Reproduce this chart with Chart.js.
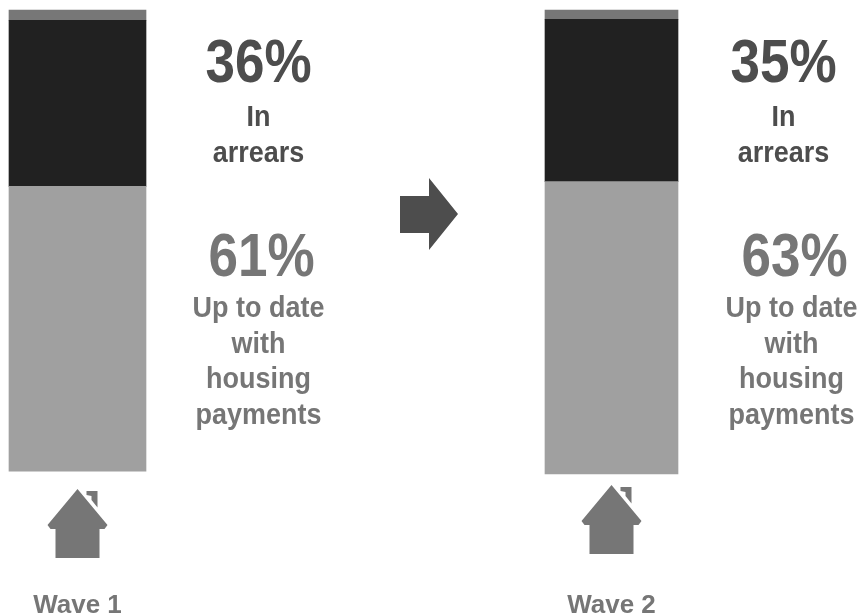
<!DOCTYPE html>
<html>
<head>
<meta charset="utf-8">
<title>Housing payments by wave</title>
<script src="https://cdn.jsdelivr.net/npm/chart.js@4/dist/chart.umd.js"></script>
<style>
  html, body { margin: 0; padding: 0; background: #fff; }
  canvas { display: block; }
</style>
</head>
<body>
<canvas id="chart" width="860" height="614"></canvas>
<script>
// Values
const waves = ["Wave 1", "Wave 2"]
const spacer = [0.6, 0]
const upToDate = [61.4, 63]
const arrears = [35.8, 35]
const other = [2.2, 2]

const arrearsCaption = ["In", "arrears"]
const upToDateCaption = ["Up to date", "with", "housing", "payments"]

const barWidths = [137, 133]
const dark = "#4d4d4d"
const mid = "#767676"

// One dataset per wave and segment, because barThickness is per dataset
const segments = [
  { label: "Spacer", values: spacer, color: "rgba(0,0,0,0)" },
  { label: "Up to date", values: upToDate, color: "#a0a0a0" },
  { label: "In arrears", values: arrears, color: "#212121" },
  { label: "Other", values: other, color: "#777777" },
]
const datasets = []
waves.forEach((wave, w) => {
  segments.forEach((seg) => {
    datasets.push({
      label: wave + " " + seg.label,
      data: waves.map((_, i) => (i === w ? seg.values[i] : null)),
      backgroundColor: seg.color,
      barThickness: barWidths[w],
      clip: false,
    })
  })
})

// Text squeezed horizontally, the source picture is a stretched image
function drawText(ctx, text, x, baseline, size, color, squeeze) {
  ctx.save()
  ctx.font = "bold " + size + 'px "Liberation Sans", Arial, sans-serif'
  ctx.fillStyle = color
  ctx.textAlign = "center"
  ctx.textBaseline = "alphabetic"
  ctx.translate(x, baseline)
  ctx.scale(squeeze, 1)
  ctx.fillText(text, 0, 0)
  ctx.restore()
}

function drawHouse(ctx, cx, top) {
  ctx.fillStyle = mid
  ctx.beginPath()
  ctx.moveTo(cx, top)
  ctx.lineTo(cx + 30, top + 36)
  ctx.lineTo(cx + 27, top + 40)
  ctx.lineTo(cx + 22, top + 40)
  ctx.lineTo(cx + 22, top + 69)
  ctx.lineTo(cx - 22, top + 69)
  ctx.lineTo(cx - 22, top + 40)
  ctx.lineTo(cx - 27, top + 40)
  ctx.lineTo(cx - 30, top + 36)
  ctx.closePath()
  ctx.fill()
  // chimney
  ctx.beginPath()
  ctx.moveTo(cx + 9, top + 2)
  ctx.lineTo(cx + 20, top + 2)
  ctx.lineTo(cx + 20, top + 18.5)
  ctx.lineTo(cx + 14, top + 11)
  ctx.lineTo(cx + 14, top + 7)
  ctx.lineTo(cx + 9, top + 6)
  ctx.closePath()
  ctx.fill()
}

const calloutPlugin = {
  id: "callouts",
  afterDraw(chart) {
    const ctx = chart.ctx
    const x = chart.scales.x
    // columns of text beside each bar, offsets from bar centre
    const arrearsX = [181, 172]
    const upToDateX = [181, 180]
    waves.forEach((wave, i) => {
      const cx = x.getPixelForValue(i)
      drawText(ctx, Math.round(arrears[i]) + "%", cx + arrearsX[i], 82, 62, dark, 0.855)
      arrearsCaption.forEach((line, l) => {
        drawText(ctx, line, cx + arrearsX[i], 126 + l * 36, 29, dark, 0.93)
      })
      drawText(ctx, Math.round(upToDate[i]) + "%", cx + upToDateX[i] + 3, 276, 62, mid, 0.855)
      upToDateCaption.forEach((line, l) => {
        drawText(ctx, line, cx + upToDateX[i], 317 + l * 35.5, 29, mid, 0.93)
      })
      drawHouse(ctx, cx, i === 0 ? 489 : 485)
    })

    // arrow between the two waves
    ctx.fillStyle = dark
    ctx.beginPath()
    ctx.moveTo(400, 196)
    ctx.lineTo(429, 196)
    ctx.lineTo(429, 178)
    ctx.lineTo(458, 214)
    ctx.lineTo(429, 250)
    ctx.lineTo(429, 233)
    ctx.lineTo(400, 233)
    ctx.closePath()
    ctx.fill()
  },
}

new Chart(document.getElementById("chart"), {
  type: "bar",
  data: { labels: waves, datasets: datasets },
  plugins: [calloutPlugin],
  options: {
    responsive: false,
    animation: false,
    layout: { autoPadding: false, padding: { left: 77.5, right: 248.5, top: 10, bottom: 0 } },
    plugins: { legend: { display: false }, title: { display: false }, tooltip: { enabled: false } },
    scales: {
      x: {
        stacked: true,
        offset: false,
        grid: { display: false },
        border: { display: false },
        // tick padding is large here, keep it from eating the side margins
        afterFit: (scale) => {
          scale.height = 140
          scale.paddingLeft = 0
          scale.paddingRight = 0
        },
        ticks: {
          color: mid,
          padding: 108,
          maxRotation: 0,
          font: { family: '"Liberation Sans", Arial, sans-serif', size: 26, weight: "bold" },
        },
      },
      y: {
        stacked: true,
        display: false,
        min: 0,
        max: 100,
      },
    },
  },
})
</script>
</body>
</html>
